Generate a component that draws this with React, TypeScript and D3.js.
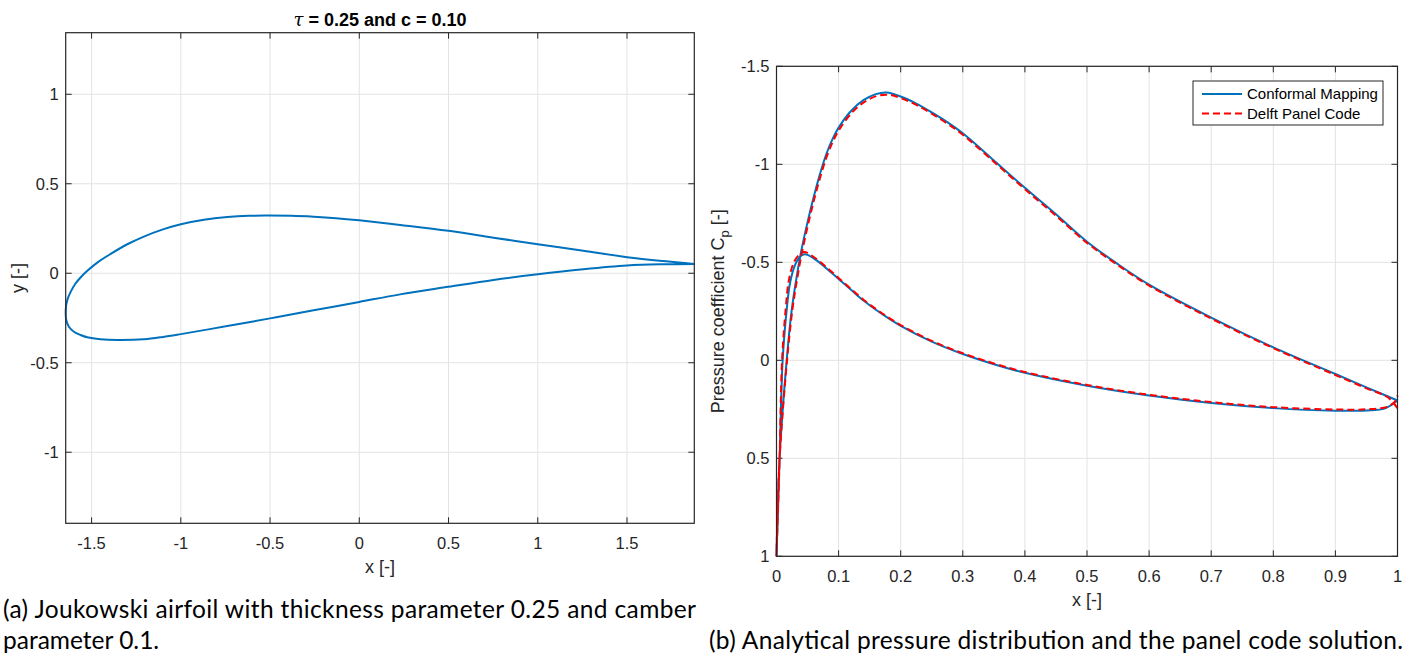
import { useEffect, useRef } from "react";
import * as d3 from "d3";

// (a) airfoil outline, leading edge -> trailing edge
const upperX = [-1.645, -1.642, -1.633, -1.615, -1.592, -1.563, -1.53, -1.47, -1.393, -1.3, -1.207, -1.1, -1.0, -0.87, -0.74, -0.62, -0.5, -0.38, -0.256, -0.13, 0, 0.229, 0.5, 0.752, 1.0, 1.255, 1.5, 1.7, 1.877];
const upperY = [-0.224, -0.177, -0.14, -0.1, -0.06, -0.025, 0.008, 0.058, 0.108, 0.162, 0.205, 0.245, 0.274, 0.299, 0.314, 0.321, 0.322, 0.321, 0.316, 0.308, 0.296, 0.27, 0.237, 0.199, 0.162, 0.126, 0.09, 0.068, 0.052];
const lowerX = [-1.645, -1.642, -1.627, -1.599, -1.562, -1.524, -1.45, -1.356, -1.207, -1.1, -1.0, -0.74, -0.5, -0.256, 0, 0.229, 0.5, 0.752, 1.0, 1.255, 1.5, 1.7, 1.877];
const lowerY = [-0.224, -0.261, -0.299, -0.327, -0.345, -0.358, -0.369, -0.373, -0.369, -0.356, -0.34, -0.295, -0.252, -0.207, -0.16, -0.118, -0.076, -0.038, -0.006, 0.022, 0.043, 0.05, 0.052];

// (b) pressure coefficient, conformal mapping
const cmUpperX = [0, 0.005, 0.0164, 0.0245, 0.0325, 0.04, 0.05, 0.06, 0.07, 0.08, 0.09, 0.1, 0.12, 0.14, 0.16, 0.177, 0.2, 0.225, 0.25, 0.275, 0.3, 0.35, 0.4, 0.45, 0.5, 0.55, 0.6, 0.7, 0.8, 0.9, 0.95, 1.0];
const cmUpperCp = [1, 0.5, 0, -0.257, -0.427, -0.56, -0.705, -0.835, -0.95, -1.05, -1.127, -1.187, -1.272, -1.327, -1.358, -1.366, -1.346, -1.31, -1.265, -1.215, -1.158, -1.02, -0.88, -0.745, -0.605, -0.49, -0.386, -0.218, -0.066, 0.07, 0.138, 0.205];
const cmLowerX = [0, 0.005, 0.0099, 0.0164, 0.0217, 0.0298, 0.038, 0.046, 0.06, 0.08, 0.1, 0.12, 0.14, 0.16, 0.18, 0.2, 0.25, 0.3, 0.35, 0.4, 0.5, 0.6, 0.7, 0.8, 0.9, 0.95, 0.98, 1.0];
const cmLowerCp = [1, 0.5, 0, -0.257, -0.393, -0.486, -0.53, -0.541, -0.52, -0.47, -0.415, -0.36, -0.305, -0.258, -0.215, -0.176, -0.095, -0.032, 0.02, 0.064, 0.13, 0.18, 0.218, 0.244, 0.257, 0.256, 0.245, 0.205];

// (b) Delft panel code
const pcUpperX = [0, 0.005, 0.017, 0.0255, 0.0335, 0.041, 0.051, 0.061, 0.071, 0.081, 0.091, 0.101, 0.121, 0.141, 0.161, 0.18, 0.2, 0.225, 0.25, 0.275, 0.3, 0.35, 0.4, 0.45, 0.5, 0.55, 0.6, 0.7, 0.8, 0.9, 0.95, 0.985, 1.0];
const pcUpperCp = [1, 0.5, 0, -0.255, -0.42, -0.55, -0.695, -0.825, -0.94, -1.04, -1.117, -1.177, -1.262, -1.317, -1.348, -1.355, -1.338, -1.303, -1.258, -1.208, -1.151, -1.013, -0.873, -0.738, -0.599, -0.485, -0.381, -0.213, -0.062, 0.075, 0.143, 0.19, 0.245];
const pcLowerX = [0, 0.005, 0.009, 0.015, 0.02, 0.028, 0.037, 0.045, 0.06, 0.08, 0.1, 0.12, 0.14, 0.16, 0.18, 0.2, 0.25, 0.3, 0.35, 0.4, 0.5, 0.6, 0.7, 0.8, 0.9, 0.95, 0.985, 0.997, 1.0];
const pcLowerCp = [1, 0.5, 0, -0.27, -0.41, -0.5, -0.54, -0.552, -0.527, -0.476, -0.42, -0.364, -0.309, -0.262, -0.219, -0.18, -0.099, -0.036, 0.016, 0.06, 0.126, 0.176, 0.213, 0.239, 0.251, 0.25, 0.236, 0.205, 0.18];

const aXTicks = [-1.5, -1, -0.5, 0, 0.5, 1, 1.5];
const aYTicks = [-1, -0.5, 0, 0.5, 1];
const bXTicks = [0, 0.1, 0.2, 0.3, 0.4, 0.5, 0.6, 0.7, 0.8, 0.9, 1];
const bYTicks = [-1.5, -1, -0.5, 0, 0.5, 1];

const legendLabels = ["Conformal Mapping", "Delft Panel Code"];

const axFont = "'Liberation Sans', Arial, Helvetica, sans-serif";
const capFont = "Lato, 'DejaVu Sans', sans-serif";
const ink = "#262626";
const blue = "#0072BD";
const red = "#FF0000";

const zip = (xs, ys) => xs.map((v, i) => [v, ys[i]]);

// MATLAB-like axes: grid, inward ticks on all sides, tick labels
const drawAxes = (svg, x, y, xTicks, yTicks) => {
    const [x0, x1] = x.range();
    const [ya, yb] = y.range();
    const top = Math.min(ya, yb), bottom = Math.max(ya, yb);
    const g = svg.append("g");

    g.selectAll(".gx").data(xTicks).join("line")
        .attr("x1", d => x(d)).attr("x2", d => x(d))
        .attr("y1", top).attr("y2", bottom)
        .attr("stroke", "#e3e3e3").attr("stroke-width", 1);
    g.selectAll(".gy").data(yTicks).join("line")
        .attr("x1", x0).attr("x2", x1)
        .attr("y1", d => y(d)).attr("y2", d => y(d))
        .attr("stroke", "#e3e3e3").attr("stroke-width", 1);

    const t = 6;
    const ticks = svg.append("g").attr("stroke", ink).attr("stroke-width", 1);
    xTicks.forEach(v => {
        ticks.append("line").attr("x1", x(v)).attr("x2", x(v)).attr("y1", bottom).attr("y2", bottom - t);
        ticks.append("line").attr("x1", x(v)).attr("x2", x(v)).attr("y1", top).attr("y2", top + t);
    });
    yTicks.forEach(v => {
        ticks.append("line").attr("x1", x0).attr("x2", x0 + t).attr("y1", y(v)).attr("y2", y(v));
        ticks.append("line").attr("x1", x1).attr("x2", x1 - t).attr("y1", y(v)).attr("y2", y(v));
    });

    const lab = svg.append("g").attr("font-family", axFont).attr("font-size", 16.5).attr("fill", ink);
    lab.selectAll(".tx").data(xTicks).join("text")
        .attr("x", d => x(d)).attr("y", bottom + 25.5)
        .attr("text-anchor", "middle")
        .text(d => String(d));
    lab.selectAll(".ty").data(yTicks).join("text")
        .attr("x", x0 - 7).attr("y", d => y(d) + 6)
        .attr("text-anchor", "end")
        .text(d => String(d));

    return { top, bottom, x0, x1 };
};

const drawBox = (svg, b) => {
    svg.append("rect")
        .attr("x", b.x0).attr("y", b.top)
        .attr("width", b.x1 - b.x0).attr("height", b.bottom - b.top)
        .attr("fill", "none").attr("stroke", ink).attr("stroke-width", 1.2);
};

const drawChart = (node) => {
    d3.select(node).selectAll("*").remove();
    const svg = d3.select(node);

    // ---------- (a) airfoil ----------
    const xA = d3.scaleLinear().domain([-1.645, 1.877]).range([65.7, 694.3]);
    const yA = d3.scaleLinear().domain([-1.397, 1.344]).range([523.3, 32.7]);
    const bA = drawAxes(svg, xA, yA, aXTicks, aYTicks);

    // trailing edge -> upper -> nose -> lower -> trailing edge
    const outline = zip(upperX, upperY).reverse().concat(zip(lowerX, lowerY).slice(1));
    svg.append("path")
        .attr("d", d3.line().x(d => xA(d[0])).y(d => yA(d[1])).curve(d3.curveCatmullRom.alpha(0.5))(outline))
        .attr("fill", "none").attr("stroke", blue).attr("stroke-width", 2);
    drawBox(svg, bA);

    svg.append("text")
        .attr("x", (bA.x0 + bA.x1) / 2).attr("y", 26)
        .attr("text-anchor", "middle")
        .attr("font-family", axFont).attr("font-size", 18).attr("font-weight", "bold").attr("fill", "#000")
        .call(t => t.append("tspan").attr("font-style", "italic").attr("font-weight", "normal").attr("font-family", "'DejaVu Serif', serif").text("τ"))
        .call(t => t.append("tspan").text(" = 0.25 and c = 0.10"));

    svg.append("text")
        .attr("x", (bA.x0 + bA.x1) / 2).attr("y", 573)
        .attr("text-anchor", "middle").attr("font-family", axFont).attr("font-size", 18).attr("fill", ink)
        .text("x [-]");
    svg.append("text")
        .attr("transform", `translate(24,${(bA.top + bA.bottom) / 2}) rotate(-90)`)
        .attr("text-anchor", "middle").attr("font-family", axFont).attr("font-size", 18).attr("fill", ink)
        .text("y [-]");

    // ---------- (b) pressure coefficient ----------
    const xB = d3.scaleLinear().domain([0, 1]).range([776.5, 1397.5]);
    const yB = d3.scaleLinear().domain([-1.5, 1]).range([66.3, 556.3]);
    const bB = drawAxes(svg, xB, yB, bXTicks, bYTicks);

    const cpLine = d3.line().x(d => xB(d[0])).y(d => yB(d[1])).curve(d3.curveCatmullRom.alpha(0.5));
    const cm = zip(cmUpperX, cmUpperCp).reverse().concat(zip(cmLowerX, cmLowerCp).slice(1));
    const pc = zip(pcUpperX, pcUpperCp).reverse().concat(zip(pcLowerX, pcLowerCp).slice(1));

    svg.append("path").attr("d", cpLine(cm))
        .attr("fill", "none").attr("stroke", blue).attr("stroke-width", 2);
    svg.append("path").attr("d", cpLine(pc))
        .attr("fill", "none").attr("stroke", red).attr("stroke-width", 2)
        .attr("stroke-dasharray", "7,4");
    drawBox(svg, bB);

    svg.append("text")
        .attr("x", (bB.x0 + bB.x1) / 2).attr("y", 606)
        .attr("text-anchor", "middle").attr("font-family", axFont).attr("font-size", 18).attr("fill", ink)
        .text("x [-]");
    svg.append("text")
        .attr("transform", `translate(724,${(bB.top + bB.bottom) / 2}) rotate(-90)`)
        .attr("text-anchor", "middle").attr("font-family", axFont).attr("font-size", 18).attr("fill", ink)
        .call(t => t.append("tspan").text("Pressure coefficient C"))
        .call(t => t.append("tspan").attr("font-size", 13).attr("dy", 5).text("p"))
        .call(t => t.append("tspan").attr("dy", -5).text(" [-]"));

    // legend
    const lg = svg.append("g");
    lg.append("rect").attr("x", 1193).attr("y", 81).attr("width", 190).attr("height", 44)
        .attr("fill", "#fff").attr("stroke", ink).attr("stroke-width", 1);
    const styles = [{ c: blue, dash: null }, { c: red, dash: "7,4" }];
    legendLabels.forEach((name, i) => {
        const yy = 94 + i * 19.5;
        lg.append("line").attr("x1", 1202).attr("x2", 1242).attr("y1", yy).attr("y2", yy)
            .attr("stroke", styles[i].c).attr("stroke-width", 2)
            .attr("stroke-dasharray", styles[i].dash);
        lg.append("text").attr("x", 1247).attr("y", yy + 5)
            .attr("font-family", axFont).attr("font-size", 15).attr("fill", "#000")
            .text(name);
    });

    // captions
    const cap = svg.append("g").attr("font-family", capFont).attr("font-size", 24.5).attr("fill", "#000");
    cap.append("text").attr("x", 3).attr("y", 618).attr("textLength", 693)
        .text("(a) Joukowski airfoil with thickness parameter 0.25 and camber");
    cap.append("text").attr("x", 3).attr("y", 649)
        .text("parameter 0.1.");
    cap.append("text").attr("x", 709).attr("y", 649).attr("textLength", 694)
        .text("(b) Analytical pressure distribution and the panel code solution.");
};

export default function App() {
    const ref = useRef(null);

    useEffect(() => {
        drawChart(ref.current);
    }, []);

    return (
        <svg ref={ref} width={1412} height={653}
            style={{ position: "absolute", left: 0, top: 0, background: "#fff" }} />
    );
}
